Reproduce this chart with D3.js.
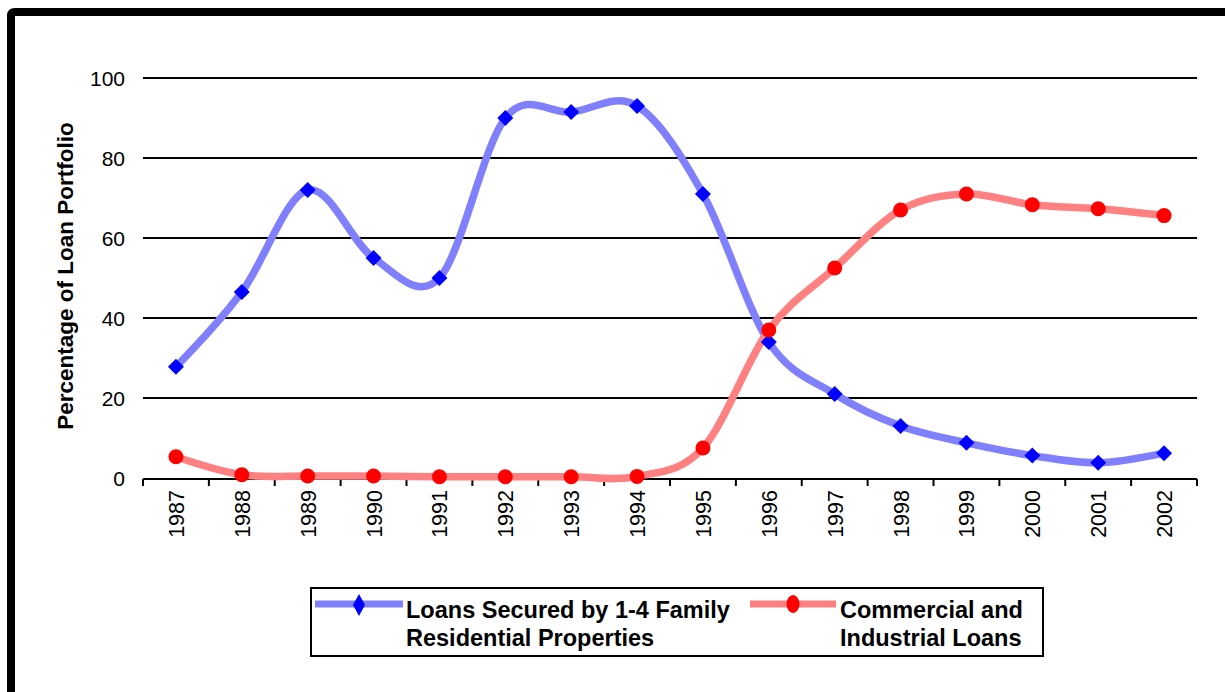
<!DOCTYPE html>
<html>
<head>
<meta charset="utf-8">
<script src="https://cdn.jsdelivr.net/npm/d3@7"></script>
<style>
  html, body { margin: 0; padding: 0; background: #fff; }
  svg { display: block; font-family: Arial, "Liberation Sans", sans-serif; }
</style>
</head>
<body>
<svg id="chart" width="1225" height="692"></svg>
<script>
// Loan portfolio composition, 1987-2002
const years = ["1987","1988","1989","1990","1991","1992","1993","1994",
               "1995","1996","1997","1998","1999","2000","2001","2002"];
const residential = [27.8, 46.5, 72, 55, 50, 90, 91.5, 93, 71, 34, 21, 13, 8.8, 5.6, 3.8, 6.2];
const commercial  = [5.3, 0.8, 0.5, 0.5, 0.3, 0.3, 0.3, 0.4, 7.5, 37, 52.5, 67, 71, 68.3, 67.3, 65.6];
const yTicks = [0, 20, 40, 60, 80, 100];
const seriesNames = ["Loans Secured by 1-4 Family|Residential Properties",
                     "Commercial and|Industrial Loans"];

(function () {
const svg = d3.select("#chart");

// outer frame
svg.append("path")
  .attr("d", "M11,700 L11,16 Q11,12 15,12 L1240,12")
  .attr("fill", "none").attr("stroke", "#000").attr("stroke-width", 8);

const plotL = 143, plotR = 1197, plotT = 78, plotB = 478;

const x = d3.scaleBand().domain(years).range([plotL, plotR]);
const y = d3.scaleLinear().domain([0, 100]).range([plotB, plotT]);
const cx = d => x(d) + x.bandwidth() / 2;

// horizontal gridlines
svg.append("g").selectAll("line").data(yTicks.filter(t => t > 0)).join("line")
  .attr("x1", plotL).attr("x2", plotR)
  .attr("y1", d => y(d)).attr("y2", d => y(d))
  .attr("stroke", "#000").attr("stroke-width", 2);

// y tick labels
svg.append("g").selectAll("text").data(yTicks).join("text")
  .attr("x", 125).attr("y", d => y(d)).attr("dy", "0.36em")
  .attr("text-anchor", "end").attr("font-size", 21).text(d => d);

// y title
svg.append("text")
  .attr("transform", `translate(73,276) rotate(-90)`)
  .attr("text-anchor", "middle").attr("font-size", 22.5).attr("font-weight", "bold")
  .text("Percentage of Loan Portfolio");

// x axis with ticks on category boundaries
const gx = svg.append("g").attr("transform", `translate(0,${plotB + 1})`);
gx.append("line").attr("x1", plotL).attr("x2", plotR)
  .attr("stroke", "#000").attr("stroke-width", 2);
const bounds = years.map(d => x(d)).concat([plotR]);
gx.selectAll("line.tick").data(bounds).join("line").attr("class", "tick")
  .attr("x1", d => d).attr("x2", d => d).attr("y1", 0).attr("y2", 7)
  .attr("stroke", "#000").attr("stroke-width", 2);
gx.selectAll("text").data(years).join("text")
  .attr("transform", d => `translate(${cx(d) + 8},${11}) rotate(-90)`)
  .attr("text-anchor", "end").attr("font-size", 21.5).text(d => d);

// smoothed series lines
const line = d3.line().x((d, i) => cx(years[i])).y(d => y(d))
  .curve(d3.curveCardinal.tension(0));

const series = [
  { values: residential, line: "#8080ff", mark: "#0000ff", shape: "diamond" },
  { values: commercial,  line: "#ff8080", mark: "#ff0000", shape: "circle" }
];

const diamond = (s) => `M0,${-s} L${s},0 L0,${s} L${-s},0 Z`;

series.forEach(s => {
  svg.append("path").datum(s.values).attr("d", line)
    .attr("fill", "none").attr("stroke", s.line).attr("stroke-width", 7.5)
    .attr("stroke-linejoin", "round");
});
series.forEach(s => {
  const g = svg.append("g");
  if (s.shape === "diamond") {
    g.selectAll("path").data(s.values).join("path")
      .attr("transform", (d, i) => `translate(${cx(years[i])},${y(d)})`)
      .attr("d", diamond(8)).attr("fill", s.mark);
  } else {
    g.selectAll("circle").data(s.values).join("circle")
      .attr("cx", (d, i) => cx(years[i])).attr("cy", d => y(d))
      .attr("r", 7.5).attr("fill", s.mark);
  }
});

// legend
const lg = svg.append("g");
lg.append("rect").attr("x", 311).attr("y", 588).attr("width", 732).attr("height", 68)
  .attr("fill", "#fff").attr("stroke", "#000").attr("stroke-width", 2);
const legendItems = [
  { x0: 315, x1: 403, tx: 406, s: series[0], label: seriesNames[0] },
  { x0: 750, x1: 836, tx: 840, s: series[1], label: seriesNames[1] }
];
legendItems.forEach(it => {
  lg.append("line").attr("x1", it.x0).attr("x2", it.x1).attr("y1", 604).attr("y2", 604)
    .attr("stroke", it.s.line).attr("stroke-width", 7);
  const mx = (it.x0 + it.x1) / 2;
  if (it.s.shape === "diamond") {
    lg.append("path").attr("transform", `translate(${mx},605)`)
      .attr("d", "M0,-11 L6,0 L0,11 L-6,0 Z").attr("fill", it.s.mark);
  } else {
    lg.append("ellipse").attr("cx", mx).attr("cy", 604).attr("rx", 6.5).attr("ry", 9)
      .attr("fill", it.s.mark);
  }
  const t = lg.append("text").attr("x", it.tx).attr("y", 618)
    .attr("font-size", 23.5).attr("font-weight", "bold");
  it.label.split("|").forEach((ln, i) => {
    t.append("tspan").attr("x", it.tx).attr("dy", i === 0 ? 0 : 28).text(ln);
  });
});
})();
</script>
</body>
</html>
